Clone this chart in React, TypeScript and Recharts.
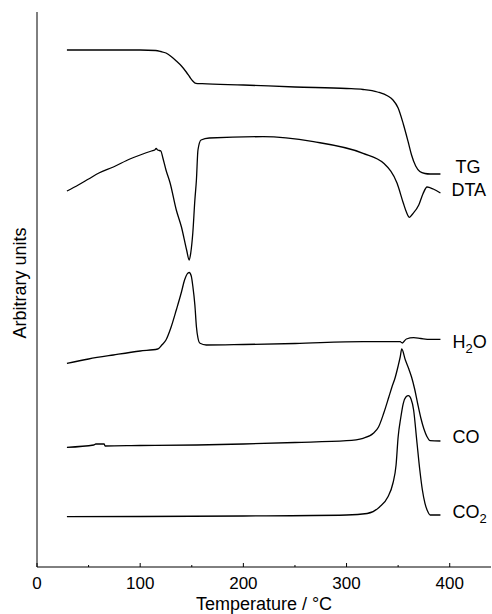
import { ComposedChart, Line, XAxis, YAxis, ReferenceDot } from "recharts";

/**
 * Thermal analysis of the precursor: TG / DTA traces plus the evolved-gas
 * signals (H2O, CO, CO2) stacked on one arbitrary-units axis.
 */

const W = 492;
const H = 614;
const MARGIN = { top: 12, right: 1, bottom: 0, left: 0 };
const Y_AXIS_W = 37;
const X_AXIS_H = 47;
const AXIS_Y = H - MARGIN.bottom - X_AXIS_H; // pixel row of the x axis line

const FONT = '"Liberation Sans", Arial, Helvetica, sans-serif';
const INK = "#000";

const X_TICKS = [0, 50, 100, 150, 200, 250, 300, 350, 400];

// temperature (°C) / signal (a.u.) pairs per trace
const TG_T = [29, 100, 115, 120, 125, 130, 135, 140, 145, 148, 151, 154, 160, 200, 250, 300, 316, 330, 340, 345, 350, 355, 360, 363, 367, 371, 376, 381, 391];
const TG_V = [517, 517, 516.5, 515.5, 514, 510.5, 506, 501, 494.5, 490, 486, 483.7, 483.3, 482, 480, 478.5, 477.5, 475, 471, 467, 459, 443, 424, 412, 401, 395.5, 393.5, 393, 393];

const DTA_T = [29, 40, 50, 60, 74, 90, 100, 111, 114, 115.5, 117, 120, 122, 125, 129, 135, 140, 145, 147.5, 149, 151, 153, 154.5, 156, 159, 167, 219, 268, 316, 336, 349, 355, 358, 361, 364, 370, 374, 378, 384, 391];
const DTA_V = [376, 382, 388, 394, 400, 408, 412, 416, 417, 418.5, 417, 416, 409, 397, 384, 357, 340, 317, 307, 314, 334, 367, 387, 417, 427, 429, 430.3, 425.3, 413.7, 403.7, 383.7, 364, 355, 349.7, 353, 362, 373, 380, 378, 374];

const H2O_T = [29, 50, 74, 100, 117, 121, 125, 130, 135, 140, 143, 145.5, 147.5, 149.5, 151, 153, 154.5, 156, 158, 164, 200, 250, 316, 352, 354, 358, 365, 372, 381, 391];
const H2O_V = [203.7, 208, 212, 216, 218, 222, 227, 240, 257, 275, 287, 293, 294.5, 291, 281, 262, 240.3, 229, 223.7, 222, 222.5, 223.5, 225.3, 225.3, 224, 228, 229.3, 228.5, 227.7, 227.7];

const CO_T = [29, 55, 57, 65, 66, 100, 155, 200, 250, 300, 316, 326, 331, 336, 341, 344, 347, 350, 352, 353.5, 357, 360, 363, 366, 369, 372, 375, 378, 381, 391];
const CO_V = [119.7, 122, 123, 123, 121, 121.5, 122, 123, 124.5, 126.3, 128.7, 133.7, 140, 153.7, 170, 180, 189, 201, 210, 218, 207, 199, 190, 178, 163, 149, 138, 130.3, 126.3, 126];

const CO2_T = [29, 100, 200, 300, 320, 332, 340, 345, 348, 350, 352.5, 355, 357.5, 360, 362.5, 365, 368, 371, 373.5, 376, 378.5, 381, 391];
const CO2_V = [50.3, 50.5, 51, 52, 53.5, 60, 70, 84, 102, 130, 149, 163.7, 170, 171.3, 168, 157, 127, 97, 77, 63.7, 56, 52, 52];

type Row = { t: number; v: number };

function zip(ts: number[], vs: number[]): Row[] {
  return ts.map((t, i) => ({ t, v: vs[i] }));
}

// tag = [main text, subscript, trailing text]
const SERIES = [
  { key: "tg", rows: zip(TG_T, TG_V), tag: ["TG", "", ""], dx: 15, dy: -7 },
  { key: "dta", rows: zip(DTA_T, DTA_V), tag: ["DTA", "", ""], dx: 11, dy: -3 },
  { key: "h2o", rows: zip(H2O_T, H2O_V), tag: ["H", "2", "O"], dx: 12, dy: 3 },
  { key: "co", rows: zip(CO_T, CO_V), tag: ["CO", "", ""], dx: 12, dy: -4 },
  { key: "co2", rows: zip(CO2_T, CO2_V), tag: ["CO", "2", ""], dx: 12, dy: -3 },
];

function XTick(props: any) {
  const { x, payload } = props;
  const major = payload.value % 100 === 0;
  return (
    <g>
      <line x1={x} x2={x} y1={AXIS_Y} y2={AXIS_Y - (major ? 4 : 2)} stroke={INK} />
      {major && (
        <text x={x} y={AXIS_Y + 22} textAnchor="middle" fontSize={17} fontFamily={FONT} fill={INK}>
          {payload.value}
        </text>
      )}
    </g>
  );
}

function Tag({ cx, cy, parts, dx, dy }: any) {
  const [main, sub, tail] = parts;
  return (
    <text x={cx + dx} y={cy + dy} dominantBaseline="central" fontSize={18} fontFamily={FONT} fill={INK}>
      {main}
      {sub && (
        <tspan dy={6} fontSize={13}>
          {sub}
        </tspan>
      )}
      {sub && <tspan dy={-6}>{tail}</tspan>}
    </text>
  );
}

export default function App() {
  return (
    <div style={{ position: "absolute", left: 0, top: 0, width: W, height: H, background: "#fff" }}>
      <ComposedChart width={W} height={H} margin={MARGIN}>
        <XAxis
          dataKey="t"
          type="number"
          domain={[0, 440]}
          ticks={X_TICKS}
          interval={0}
          allowDataOverflow
          height={X_AXIS_H}
          axisLine={{ stroke: INK }}
          tickLine={false}
          tick={<XTick />}
          label={{
            value: "Temperature  / °C",
            position: "insideBottom",
            offset: 4,
            fontSize: 18,
            fontFamily: FONT,
            fill: INK,
          }}
        />
        <YAxis
          dataKey="v"
          type="number"
          domain={[0, 555]}
          width={Y_AXIS_W}
          axisLine={{ stroke: INK }}
          tickLine={false}
          tick={false}
          label={{
            content: () => (
              <text
                x={20}
                y={283}
                transform="rotate(-90 20 283)"
                textAnchor="middle"
                dominantBaseline="central"
                fontSize={18}
                fontFamily={FONT}
                fill={INK}
              >
                Arbitrary units
              </text>
            ),
          }}
        />
        {SERIES.map((s) => (
          <Line
            key={s.key}
            data={s.rows}
            dataKey="v"
            type="monotone"
            stroke={INK}
            strokeWidth={1.3}
            dot={false}
            activeDot={false}
            isAnimationActive={false}
          />
        ))}
        {SERIES.map((s) => {
          const last = s.rows[s.rows.length - 1];
          return (
            <ReferenceDot
              key={`${s.key}-tag`}
              x={last.t}
              y={last.v}
              r={0}
              shape={(p: any) => <Tag cx={p.cx} cy={p.cy} parts={s.tag} dx={s.dx} dy={s.dy} />}
            />
          );
        })}
      </ComposedChart>
    </div>
  );
}
